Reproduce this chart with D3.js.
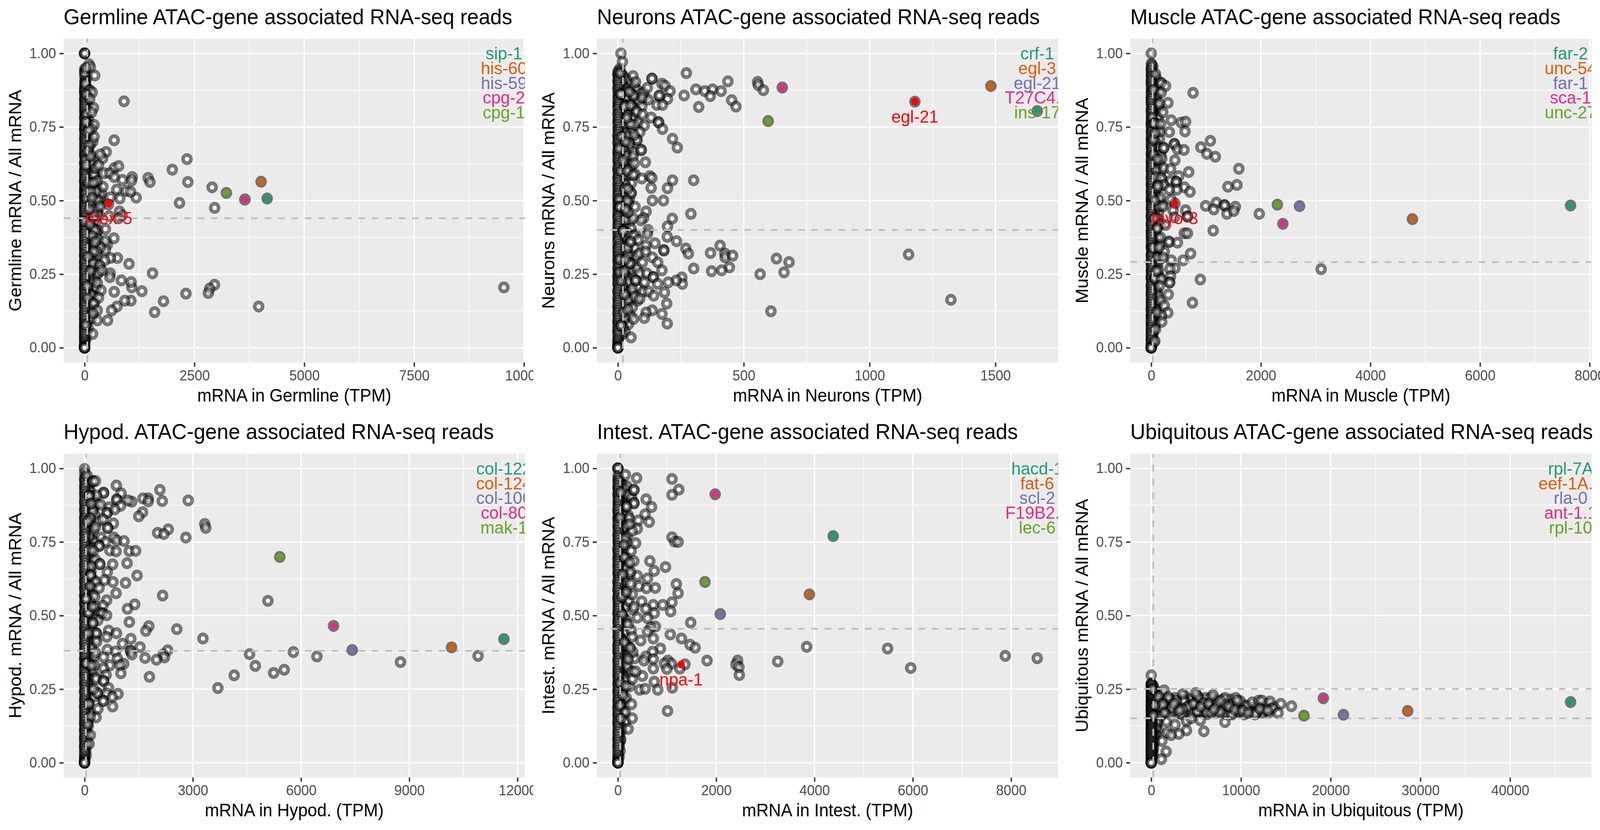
<!DOCTYPE html>
<html>
<head>
<meta charset="utf-8">
<script src="https://d3js.org/d3.v7.min.js"></script>
<style>
html, body { margin: 0; padding: 0; background: #fff; overflow: hidden; }
text { font-family: "Liberation Sans", Arial, sans-serif; }
</style>
</head>
<body>
<div id="chart"></div>
<script>
// values: [TPM, fraction of all mRNA]
var germlineCore = [[0,1],[0,1],[0,1],[2,.946],[6,.938],[11,.937],[3,.93],[14,.905],[17,.897],[4,.889],[9,.881],[3,.872],[2,.863],[12,.855],[5,.846],[17,.837],[8,.827],[2,.818],[14,.81],[6,.801],[21,.793],[3,.785],[10,.776],[16,.767],[4,.757],[9,.749],[2,.741],[13,.732],[7,.724],[3,.712],[18,.704],[5,.695],[11,.687],[2,.678],[8,.669],[14,.659],[4,.651],[19,.642],[6,.632],[2,.624],[10,.615],[16,.607],[3,.596],[7,.588],[12,.58],[2,.571],[5,.562],[20,.553],[9,.544],[3,.536],[13,.527],[6,.519],[2,.509],[17,.5],[8,.491],[4,.482],[11,.474],[2,.465],[15,.456],[6,.447],[3,.438],[9,.429],[18,.42],[4,.411],[12,.402],[2,.393],[7,.385],[14,.376],[3,.367],[10,.358],[5,.349],[2,.341],[16,.332],[8,.323],[3,.314],[11,.305],[6,.296],[2,.287],[13,.278],[4,.269],[9,.26],[2,.251],[15,.242],[6,.233],[3,.224],[11,.215],[5,.206],[2,.197],[14,.188],[7,.179],[3,.17],[10,.161],[4,.152],[2,.143],[12,.134],[6,.125],[3,.116],[9,.107],[2,.098],[13,.089],[5,.08],[2,.071],[8,.062],[3,.053],[6,.044],[2,.035],[4,.027],[1,.02],[3,.014],[0,.009],[2,.005],[0,.003],[1,.001],[0,0],[0,0],[0,0],[0,0]];
var germlineDense = [[8,.92],[4,.905],[10,.892],[1,.877],[7,.866],[13,.851],[1,.842],[6,.832],[11,.822],[3,.806],[8,.796],[1,.781],[12,.771],[5,.762],[1,.745],[7,.736],[10,.72],[2,.707],[6,.691],[13,.682],[1,.664],[5,.655],[9,.646],[2,.628],[7,.61],[1,.6],[4,.584],[10,.575],[1,.566],[7,.557],[3,.548],[12,.54],[1,.532],[6,.523],[3,.513],[9,.504],[1,.495],[5,.486],[2,.477],[8,.47],[1,.46],[4,.451],[10,.443],[1,.434],[6,.425],[3,.416],[9,.407],[1,.398],[5,.389],[2,.38],[8,.372],[1,.362],[4,.354],[10,.345],[1,.336],[6,.327],[3,.318],[1,.31],[7,.3],[2,.291],[9,.282],[1,.273],[5,.264],[3,.255],[8,.246],[1,.237],[4,.228],[7,.219],[1,.21],[3,.2],[9,.192],[1,.183],[5,.174],[2,.165],[7,.156],[1,.147],[4,.138],[8,.129],[1,.12],[3,.111],[6,.102],[1,.093],[4,.084],[1,.075],[3,.066],[1,.057],[2,.048],[1,.039],[2,.03],[60,.49],[120,.55],[95,.46],[160,.44],[210,.59],[255,.565],[310,.535],[360,.51],[130,.515],[240,.49],[280,.46],[330,.45],[185,.405],[270,.39],[230,.345],[155,.31],[290,.315],[120,.285],[205,.27],[330,.27],[95,.24],[170,.22],[250,.205],[70,.205],[140,.18],[225,.155],[55,.135],[105,.13],[165,.1],[80,.6],[155,.625],[120,.7],[70,.76],[45,.81]];
var germlineShoulder = [[45,.915],[60,.882],[38,.85],[72,.823],[55,.79],[90,.775],[48,.75],[110,.731],[66,.705],[130,.69],[85,.672],[150,.655],[60,.645],[180,.635],[105,.622],[210,.603],[75,.6],[140,.592],[240,.578],[95,.57],[170,.563],[280,.55],[60,.548],[125,.541],[210,.533],[320,.529],[85,.522],[160,.515],[265,.51],[340,.501],[50,.495],[115,.49],[195,.484],[290,.476],[70,.47],[145,.463],[230,.455],[40,.449],[100,.441],[175,.435],[260,.428],[65,.42],[130,.413],[205,.405],[300,.398],[85,.39],[155,.382],[240,.374],[50,.366],[120,.358],[190,.35],[275,.343],[75,.336],[140,.328],[220,.32],[40,.312],[105,.304],[170,.296],[250,.288],[65,.28],[130,.272],[200,.264],[310,.256],[85,.248],[150,.24],[235,.232],[50,.224],[115,.216],[180,.208],[265,.2],[70,.192],[135,.184],[210,.176],[40,.168],[100,.16],[165,.152],[60,.144],[125,.136],[195,.128],[80,.12],[45,.11],[110,.102],[70,.09],[40,.075],[85,.065],[55,.05],[30,.03]];
var germlinePoints = [[9543,.205],[3963,.14],[2957,.214],[2848,.201],[2817,.186],[2307,.184],[1797,.158],[1594,.121],[1546,.253],[1303,.192],[1074,.205],[1060,.223],[1054,.16],[917,.16],[837,.229],[674,.19],[737,.14],[617,.127],[523,.093],[289,.093],[183,.047],[1011,.285],[746,.305],[589,.305],[583,.253],[574,.24],[669,.372],[474,.403],[517,.35],[474,.333],[794,.463],[860,.45],[774,.44],[560,.447],[1174,.51],[946,.533],[1046,.53],[731,.537],[589,.511],[803,.507],[860,.57],[1083,.58],[1069,.568],[674,.61],[774,.617],[1446,.577],[1489,.563],[1997,.605],[2331,.641],[2351,.563],[2903,.545],[2160,.492],[2960,.475],[898,.837],[674,.705],[491,.665],[411,.643],[360,.657],[103,.963],[131,.953],[31,.95],[231,.925],[17,.897],[117,.875],[174,.868],[46,.86],[117,.845],[203,.815],[46,.793],[160,.8],[31,.767],[217,.757],[160,.743],[60,.733],[189,.7],[217,.717],[103,.687],[74,.667],[17,.637],[31,.62],[217,.587],[246,.61],[317,.62],[451,.593],[574,.593],[674,.58],[383,.525],[46,.537],[31,.523],[131,.503],[246,.507],[417,.547],[289,.567],[46,.507],[546,.487],[289,.46],[231,.4],[303,.37],[474,.363],[360,.341],[274,.327],[203,.327],[189,.288],[460,.297],[346,.28],[303,.253],[389,.263],[289,.22],[374,.195],[74,.17],[317,.17],[203,.15],[289,.127],[189,.117],[31,.077],[2,.43],[150,.49],[90,.56],[230,.47],[120,.42],[170,.38],[80,.31],[130,.26],[60,.21],[240,.36],[200,.56],[130,.65],[100,.74],[300,.5],[350,.48],[260,.53],[200,.45],[140,.53],[110,.47],[170,.51]];
var germlineGenes = ["sip-1", "his-60", "his-59", "cpg-2", "cpg-1"];
var germlineGeneX = [4156, 4017, 3653, 3645, 3227];
var germlineGeneY = [.507, .564, .504, .503, .526];

var neuronsCore = [[1,.94],[3,.935],[0,.93],[4,.921],[2,.914],[0,.908],[3,.9],[1,.892],[5,.884],[0,.876],[2,.868],[1,.859],[4,.851],[0,.843],[2,.834],[3,.826],[0,.817],[1,.809],[4,.8],[0,.792],[2,.783],[1,.775],[3,.766],[0,.757],[5,.749],[1,.74],[2,.732],[0,.723],[3,.714],[1,.706],[0,.697],[4,.689],[2,.68],[0,.671],[1,.663],[3,.654],[0,.645],[2,.637],[1,.628],[4,.62],[0,.611],[2,.603],[1,.594],[3,.585],[0,.576],[2,.568],[1,.559],[5,.55],[0,.541],[3,.533],[1,.524],[0,.516],[2,.507],[4,.498],[0,.49],[1,.481],[3,.472],[0,.464],[2,.455],[1,.446],[0,.438],[4,.429],[2,.42],[0,.412],[1,.403],[3,.394],[0,.386],[2,.377],[1,.368],[0,.36],[5,.351],[2,.342],[0,.334],[1,.325],[3,.316],[0,.308],[2,.299],[1,.29],[4,.282],[0,.273],[2,.264],[1,.256],[0,.247],[3,.238],[1,.23],[0,.221],[2,.212],[4,.204],[0,.195],[1,.186],[3,.178],[0,.169],[2,.16],[1,.152],[0,.143],[3,.134],[1,.126],[0,.117],[2,.108],[1,.1],[0,.091],[2,.082],[0,.074],[1,.065],[0,.056],[0,.048],[1,.04],[0,.03],[0,.024],[0,.017],[0,.01],[0,.006],[0,.002],[0,0],[0,0],[0,0]];
var neuronsDense = [[6,.925],[9,.9],[5,.87],[8,.845],[6,.82],[10,.79],[5,.765],[9,.74],[6,.71],[10,.685],[5,.655],[8,.63],[6,.6],[10,.575],[5,.545],[8,.52],[6,.495],[10,.47],[5,.44],[8,.415],[6,.39],[10,.365],[5,.34],[8,.31],[6,.285],[10,.26],[5,.23],[8,.205],[6,.18],[10,.155],[5,.13],[8,.105],[6,.08],[5,.055],[3,.035],[0,.928],[1,.905],[0,.882],[1,.853],[0,.828],[1,.798],[0,.77],[1,.745],[0,.718],[1,.692],[0,.66],[1,.635],[0,.606],[1,.58],[0,.553],[1,.53],[0,.503],[1,.475],[0,.45],[1,.425],[0,.398],[1,.372],[0,.345],[1,.32],[0,.295],[1,.268],[0,.24],[1,.215],[0,.19],[1,.163],[0,.138],[1,.113],[0,.088],[1,.06],[16,.905],[23,.87],[31,.85],[18,.83],[27,.805],[36,.79],[19,.75],[28,.73],[41,.72],[21,.68],[33,.65],[24,.625],[39,.605],[19,.585],[28,.555],[35,.52],[22,.5],[42,.49],[18,.455],[30,.435],[23,.4],[38,.39],[17,.375],[31,.345],[24,.325],[40,.315],[19,.29],[33,.27],[25,.25],[41,.225],[18,.21],[31,.18],[23,.155],[38,.145],[17,.12],[27,.1],[20,.07],[16,.045]];
var neuronsShoulder = [[8,.948],[16,.93],[24,.92],[34,.912],[12,.9],[44,.905],[22,.89],[54,.895],[32,.88],[66,.887],[15,.87],[42,.868],[78,.875],[26,.856],[56,.86],[90,.862],[18,.843],[38,.84],[70,.845],[104,.85],[28,.825],[50,.83],[84,.835],[14,.812],[40,.81],[62,.815],[95,.82],[24,.795],[46,.797],[72,.8],[12,.78],[34,.775],[56,.78],[20,.76],[42,.76],[80,.765],[14,.742],[30,.74],[52,.735],[22,.72],[36,.715],[60,.71],[12,.7],[28,.69],[48,.68],[18,.67],[34,.66],[64,.665],[10,.65],[26,.64],[44,.63],[16,.62],[30,.61],[52,.615],[22,.595],[40,.585],[68,.59],[14,.575],[30,.565],[54,.56],[20,.55],[38,.535],[12,.525],[28,.51],[46,.505],[18,.49],[34,.475],[12,.46],[26,.445],[48,.43],[14,.42],[30,.41],[52,.405],[20,.39],[36,.375],[70,.385],[12,.365],[28,.355],[50,.355],[18,.34],[36,.33],[66,.34],[12,.32],[26,.31],[44,.305],[74,.31],[16,.295],[34,.28],[58,.285],[12,.27],[26,.26],[46,.265],[76,.27],[18,.245],[36,.24],[60,.235],[12,.225],[28,.215],[48,.215],[80,.205],[16,.2],[34,.19],[58,.185],[12,.175],[28,.165],[48,.16],[78,.16],[18,.15],[36,.14],[14,.13],[30,.115],[50,.11],[12,.095],[24,.085],[42,.08],[14,.065],[28,.055],[8,.045]];
var neuronsPoints = [[12,1],[18,.972],[272,.933],[437,.905],[310,.878],[345,.872],[376,.878],[410,.872],[367,.855],[263,.857],[321,.818],[452,.841],[469,.819],[136,.913],[135,.915],[175,.897],[187,.89],[207,.872],[197,.845],[165,.855],[164,.857],[155,.825],[177,.825],[120,.843],[102,.867],[95,.85],[117,.883],[60,.923],[70,.903],[62,.857],[27,.82],[28,.821],[50,.823],[10,.863],[11,.861],[10,.933],[75,.803],[97,.793],[132,.782],[161,.767],[162,.765],[177,.743],[105,.755],[65,.757],[87,.733],[75,.707],[76,.705],[65,.723],[45,.695],[217,.71],[236,.68],[92,.673],[93,.671],[15,.717],[5,.677],[60,.65],[65,.627],[109,.63],[20,.637],[12,.6],[37,.6],[60,.587],[95,.575],[127,.583],[135,.577],[217,.569],[301,.569],[132,.543],[197,.542],[137,.5],[181,.5],[27,.54],[52,.527],[53,.525],[5,.503],[37,.5],[7,.479],[8,.478],[68,.479],[112,.463],[102,.441],[92,.433],[60,.44],[40,.46],[290,.455],[216,.439],[197,.412],[20,.397],[21,.396],[120,.4],[117,.387],[62,.38],[80,.367],[196,.377],[233,.362],[147,.355],[270,.337],[280,.32],[182,.332],[183,.33],[111,.347],[85,.32],[38,.339],[110,.327],[137,.307],[158,.29],[7,.301],[46,.288],[47,.286],[97,.29],[368,.322],[406,.347],[425,.32],[426,.307],[456,.313],[443,.273],[372,.26],[412,.263],[301,.269],[175,.263],[7,.257],[86,.253],[115,.253],[140,.241],[141,.239],[254,.239],[256,.217],[232,.229],[200,.222],[158,.217],[70,.23],[71,.228],[13,.227],[105,.222],[185,.188],[57,.2],[100,.191],[122,.191],[142,.177],[194,.15],[42,.163],[67,.173],[87,.167],[57,.137],[22,.122],[136,.127],[112,.12],[175,.115],[105,.101],[62,.098],[196,.082],[12,.077],[13,.075],[52,.035],[555,.903],[558,.892],[578,.875],[1155,.317],[1323,.163],[608,.124],[565,.25],[660,.256],[680,.291],[630,.303],[40,.54],[30,.7],[50,.76],[30,.3],[50,.36],[25,.18],[40,.13],[30,.47],[25,.26],[45,.87],[35,.78]];
var neuronsGenes = ["crf-1", "egl-3", "egl-21", "T27C4.4", "ins-17"];
var neuronsGeneX = [1666, 1482, 1180, 653, 597];
var neuronsGeneY = [.804, .889, .836, .884, .77];

var muscleCore = [[0,1],[3,.965],[9,.96],[2,.95],[6,.94],[1,.93],[8,.922],[4,.913],[0,.905],[7,.896],[2,.888],[10,.88],[5,.871],[1,.862],[8,.853],[3,.845],[0,.836],[6,.827],[11,.818],[2,.81],[5,.801],[1,.792],[9,.783],[4,.775],[0,.766],[7,.757],[3,.749],[12,.74],[1,.731],[6,.722],[2,.713],[9,.705],[0,.696],[5,.687],[3,.679],[8,.67],[1,.661],[11,.652],[4,.644],[0,.635],[7,.626],[2,.618],[5,.609],[1,.6],[9,.591],[3,.583],[0,.574],[6,.565],[2,.557],[10,.548],[4,.539],[1,.53],[7,.522],[0,.513],[3,.504],[8,.496],[2,.487],[5,.478],[0,.469],[11,.461],[3,.452],[1,.443],[7,.434],[4,.426],[0,.417],[9,.408],[2,.399],[6,.39],[1,.382],[3,.373],[8,.364],[0,.355],[5,.347],[2,.338],[10,.329],[3,.32],[1,.312],[7,.303],[0,.294],[4,.285],[2,.277],[9,.268],[1,.259],[5,.25],[0,.242],[3,.233],[8,.224],[2,.216],[0,.207],[6,.198],[1,.189],[4,.181],[0,.172],[7,.163],[2,.154],[1,.146],[5,.137],[0,.128],[3,.12],[1,.111],[6,.102],[0,.094],[2,.085],[4,.076],[0,.067],[2,.059],[1,.05],[0,.042],[3,.033],[0,.025],[1,.016],[0,.009],[0,.004],[0,0],[0,0],[0,0],[0,0]];
var muscleDense = [[0,.945],[4,.925],[1,.9],[5,.875],[0,.85],[3,.83],[1,.806],[6,.78],[0,.76],[3,.735],[1,.708],[5,.683],[0,.657],[4,.63],[1,.605],[6,.58],[0,.553],[4,.527],[1,.5],[5,.475],[0,.448],[3,.42],[1,.395],[6,.37],[0,.343],[4,.315],[1,.29],[5,.263],[0,.237],[3,.21],[1,.185],[5,.16],[0,.133],[3,.107],[1,.08],[3,.055],[0,.03],[20,.9],[16,.87],[24,.84],[18,.805],[22,.775],[15,.745],[25,.71],[18,.68],[21,.65],[16,.62],[24,.59],[19,.56],[22,.53],[15,.5],[25,.47],[18,.44],[22,.41],[16,.38],[24,.35],[19,.32],[21,.29],[15,.26],[24,.23],[18,.2],[21,.17],[16,.14],[22,.11],[15,.08],[18,.05],[50,.88],[75,.855],[105,.825],[130,.78],[95,.76],[160,.735],[75,.7],[125,.68],[175,.655],[60,.63],[95,.61],[165,.595],[200,.57],[115,.56],[70,.52],[150,.5],[200,.485],[55,.46],[110,.44],[175,.42],[70,.395],[115,.375],[160,.35],[50,.325],[90,.31],[145,.3],[60,.28],[110,.26],[155,.24],[45,.215],[85,.195],[130,.175],[50,.15],[85,.13],[45,.095],[75,.08]];
var muscleShoulder = [[30,.955],[55,.925],[90,.915],[35,.895],[70,.885],[125,.87],[45,.86],[95,.85],[30,.83],[65,.825],[140,.815],[45,.8],[90,.785],[30,.77],[60,.75],[120,.745],[40,.73],[85,.72],[150,.71],[30,.695],[65,.685],[110,.67],[40,.66],[85,.64],[150,.63],[30,.615],[60,.6],[105,.59],[40,.575],[80,.56],[140,.545],[30,.53],[60,.52],[100,.505],[40,.49],[80,.47],[135,.46],[30,.445],[60,.43],[100,.42],[40,.4],[75,.385],[125,.37],[30,.36],[60,.345],[100,.33],[40,.315],[75,.3],[120,.285],[30,.27],[60,.255],[95,.24],[40,.22],[70,.205],[110,.19],[30,.175],[60,.16],[90,.145],[35,.13],[65,.115],[100,.1],[30,.085],[60,.07],[35,.05],[25,.035],[50,.02]];
var musclePoints = [[78,.93],[181,.9],[182,.898],[261,.889],[43,.877],[181,.867],[764,.866],[306,.832],[146,.83],[210,.8],[20,.783],[55,.763],[56,.761],[364,.773],[547,.765],[627,.768],[617,.735],[329,.733],[169,.76],[421,.693],[422,.691],[43,.707],[226,.68],[227,.678],[478,.675],[597,.672],[43,.655],[1079,.703],[906,.681],[1015,.659],[1169,.649],[432,.637],[192,.643],[89,.603],[226,.61],[352,.607],[684,.597],[1599,.608],[501,.583],[352,.567],[455,.565],[456,.563],[89,.58],[181,.577],[604,.545],[467,.537],[707,.53],[226,.553],[101,.543],[329,.537],[1400,.547],[1564,.553],[32,.51],[169,.51],[364,.503],[432,.49],[135,.48],[215,.48],[398,.467],[627,.467],[661,.447],[662,.445],[421,.443],[993,.482],[1187,.493],[1141,.47],[1336,.485],[1338,.483],[1535,.479],[1381,.455],[1507,.465],[1971,.455],[1130,.398],[107,.407],[108,.405],[261,.417],[604,.389],[661,.389],[169,.375],[325,.361],[326,.359],[478,.357],[32,.34],[238,.327],[718,.32],[581,.297],[364,.297],[112,.307],[215,.307],[432,.27],[341,.268],[135,.263],[896,.232],[66,.237],[67,.235],[352,.243],[335,.223],[336,.221],[181,.233],[311,.181],[169,.16],[238,.143],[752,.153],[302,.119],[188,.11],[192,.088],[78,.063],[66,.023],[3100,.267],[120,.55],[60,.44],[140,.34],[90,.26],[150,.21],[100,.12],[70,.73],[110,.64],[60,.5]];
var muscleGenes = ["far-2", "unc-54", "far-1", "sca-1", "unc-27"];
var muscleGeneX = [7652, 4766, 2706, 2402, 2302];
var muscleGeneY = [.483, .437, .481, .421, .486];

var hypodCore = [[0,.998],[5,.985],[12,.972],[3,.96],[8,.95],[15,.94],[2,.93],[10,.92],[18,.911],[4,.902],[13,.893],[1,.884],[7,.875],[16,.866],[3,.857],[11,.848],[21,.839],[5,.83],[1,.821],[14,.812],[8,.803],[2,.794],[19,.785],[6,.776],[12,.767],[3,.758],[9,.749],[1,.74],[16,.731],[5,.722],[11,.713],[2,.704],[18,.695],[7,.686],[13,.677],[3,.668],[9,.659],[1,.65],[15,.641],[6,.632],[20,.623],[2,.614],[11,.605],[4,.596],[8,.587],[17,.578],[1,.569],[13,.56],[6,.551],[3,.542],[10,.533],[19,.524],[2,.515],[7,.506],[14,.497],[4,.488],[1,.479],[11,.47],[6,.461],[16,.452],[3,.443],[9,.434],[1,.425],[13,.416],[5,.407],[18,.398],[2,.389],[8,.38],[12,.371],[3,.362],[7,.353],[15,.344],[1,.335],[10,.326],[4,.317],[2,.308],[13,.299],[6,.29],[1,.281],[9,.272],[3,.263],[11,.254],[5,.245],[2,.236],[14,.227],[7,.218],[1,.209],[10,.2],[3,.191],[6,.182],[1,.173],[12,.164],[4,.155],[2,.146],[8,.137],[1,.128],[5,.119],[3,.11],[9,.101],[1,.092],[4,.083],[2,.074],[6,.065],[1,.056],[3,.047],[1,.038],[2,.029],[0,.02],[1,.014],[0,.009],[0,.005],[0,.002],[0,0],[0,0],[0,0],[0,0]];
var hypodDense = [[1,.965],[4,.94],[0,.915],[6,.888],[2,.862],[0,.835],[5,.808],[1,.78],[7,.755],[0,.727],[3,.7],[1,.673],[6,.646],[0,.62],[4,.592],[2,.566],[7,.54],[0,.512],[3,.485],[1,.458],[6,.432],[0,.405],[4,.378],[2,.352],[7,.325],[0,.298],[3,.27],[1,.244],[6,.218],[0,.19],[4,.163],[2,.136],[0,.11],[3,.082],[1,.055],[25,.935],[35,.9],[28,.87],[40,.845],[25,.815],[36,.785],[28,.75],[42,.72],[25,.69],[34,.66],[28,.63],[40,.6],[25,.57],[36,.54],[30,.51],[42,.48],[25,.45],[34,.42],[28,.39],[40,.36],[25,.33],[36,.3],[28,.27],[42,.24],[25,.21],[34,.18],[28,.15],[38,.12],[25,.09],[32,.06],[70,.95],[120,.925],[175,.905],[260,.895],[330,.88],[210,.86],[300,.84],[150,.83],[380,.82],[250,.79],[130,.77],[330,.75],[210,.73],[110,.71],[300,.69],[180,.65],[260,.62],[95,.59],[230,.57],[150,.55],[320,.53],[400,.51],[260,.49],[130,.47],[205,.45],[300,.42],[95,.41],[190,.39],[260,.36],[120,.34],[215,.315],[310,.29],[95,.27],[180,.25],[260,.225],[115,.2],[170,.17],[90,.14],[65,.08]];
var hypodShoulder = [[40,.96],[90,.94],[150,.925],[55,.915],[110,.905],[210,.895],[70,.885],[140,.875],[260,.87],[45,.86],[105,.85],[190,.84],[60,.83],[130,.82],[240,.815],[45,.805],[95,.795],[170,.785],[55,.77],[120,.76],[220,.755],[40,.74],[85,.73],[155,.72],[50,.705],[105,.695],[190,.69],[40,.675],[80,.665],[140,.655],[50,.64],[100,.63],[175,.62],[40,.605],[75,.59],[130,.58],[50,.565],[95,.555],[160,.545],[40,.53],[80,.52],[200,.515],[55,.5],[110,.49],[170,.48],[40,.465],[85,.455],[140,.44],[50,.425],[100,.415],[160,.405],[40,.39],[80,.375],[130,.365],[50,.35],[95,.34],[150,.325],[40,.31],[75,.3],[120,.285],[45,.27],[85,.26],[140,.245],[40,.23],[70,.22],[110,.205],[45,.19],[80,.18],[130,.165],[40,.15],[65,.14],[100,.125],[35,.11],[60,.1],[40,.08],[55,.06],[35,.04],[45,.025]];
var hypodPoints = [[10907,.363],[8758,.342],[6439,.361],[5788,.376],[5534,.316],[5241,.305],[4732,.329],[4572,.369],[4148,.297],[3695,.254],[5081,.55],[3281,.422],[73,.975],[230,.957],[232,.955],[300,.957],[881,.942],[1014,.915],[2087,.927],[2874,.891],[2153,.889],[1763,.898],[1617,.898],[1765,.888],[1310,.887],[1205,.891],[892,.895],[894,.893],[996,.873],[526,.918],[528,.916],[334,.908],[125,.908],[127,.906],[439,.877],[683,.868],[230,.855],[624,.85],[626,.848],[840,.861],[1606,.851],[1502,.837],[160,.831],[509,.827],[798,.813],[641,.799],[643,.797],[300,.801],[3331,.811],[3359,.798],[2320,.793],[2024,.781],[2198,.777],[2808,.765],[456,.765],[812,.765],[578,.75],[892,.755],[1094,.753],[404,.738],[406,.736],[143,.724],[700,.721],[874,.718],[1240,.719],[1415,.72],[422,.676],[424,.674],[777,.674],[1178,.678],[178,.668],[631,.648],[167,.638],[169,.636],[1456,.636],[550,.62],[787,.614],[1136,.611],[317,.614],[404,.594],[874,.576],[282,.564],[2164,.568],[38,.558],[40,.556],[613,.552],[1390,.538],[1188,.523],[509,.534],[108,.511],[110,.509],[491,.509],[493,.507],[613,.501],[369,.484],[230,.476],[232,.474],[1240,.478],[1780,.464],[1700,.448],[2557,.454],[665,.449],[885,.44],[324,.441],[326,.439],[613,.428],[1282,.421],[1049,.404],[334,.411],[1536,.393],[631,.384],[857,.378],[1275,.381],[1277,.379],[300,.374],[2303,.382],[2181,.368],[2216,.358],[1310,.368],[526,.359],[909,.354],[1676,.356],[1993,.35],[1084,.336],[979,.332],[700,.331],[49,.339],[51,.337],[272,.331],[526,.321],[1007,.304],[1798,.292],[596,.298],[317,.284],[526,.279],[528,.277],[665,.254],[927,.234],[613,.236],[352,.238],[354,.236],[770,.224],[516,.211],[518,.209],[777,.191],[369,.183],[317,.154],[160,.157],[160,.094],[125,.064],[180,.88],[90,.82],[240,.72],[150,.6],[220,.53],[100,.44],[180,.33],[250,.25],[120,.2],[90,.13]];
var hypodGenes = ["col-122", "col-124", "col-106", "col-80", "mak-1"];
var hypodGeneX = [11623, 10172, 7419, 6901, 5411];
var hypodGeneY = [.42, .392, .383, .465, .699];

var intestCore = [[0,1],[0,1],[0,1],[3,.975],[8,.966],[14,.957],[2,.948],[6,.94],[1,.931],[11,.922],[4,.913],[16,.904],[2,.895],[7,.887],[12,.878],[3,.869],[1,.86],[9,.851],[5,.842],[14,.833],[2,.825],[7,.816],[1,.807],[11,.798],[4,.789],[17,.78],[2,.771],[8,.763],[3,.754],[13,.745],[6,.736],[1,.727],[10,.718],[4,.709],[15,.7],[2,.691],[7,.683],[3,.674],[12,.665],[1,.656],[9,.647],[5,.638],[18,.629],[2,.62],[6,.611],[11,.603],[3,.594],[1,.585],[14,.576],[7,.567],[4,.558],[2,.549],[9,.541],[16,.532],[3,.523],[6,.514],[1,.505],[12,.496],[4,.487],[8,.478],[2,.469],[15,.461],[5,.452],[1,.443],[10,.434],[3,.425],[7,.416],[13,.407],[2,.398],[5,.389],[1,.381],[9,.372],[17,.363],[3,.354],[6,.345],[2,.336],[11,.327],[4,.318],[1,.309],[8,.301],[14,.292],[3,.283],[5,.274],[1,.265],[10,.256],[2,.247],[7,.238],[3,.229],[12,.221],[1,.212],[5,.203],[9,.194],[2,.185],[4,.176],[1,.167],[7,.158],[3,.149],[1,.14],[6,.131],[2,.122],[9,.113],[4,.104],[1,.095],[5,.086],[2,.077],[3,.068],[1,.059],[4,.05],[0,.041],[2,.032],[1,.024],[0,.016],[1,.01],[0,.005],[0,.002],[0,0],[0,0],[0,0]];
var intestDense = [[1,.96],[4,.935],[0,.91],[5,.88],[2,.855],[0,.83],[4,.8],[1,.775],[6,.75],[0,.722],[3,.695],[1,.668],[5,.642],[0,.615],[3,.588],[1,.562],[6,.535],[0,.508],[3,.48],[1,.455],[5,.428],[0,.4],[3,.375],[1,.348],[6,.322],[0,.295],[3,.268],[1,.242],[5,.215],[0,.19],[3,.162],[1,.135],[4,.108],[0,.082],[2,.055],[22,.93],[30,.895],[25,.865],[33,.835],[22,.8],[28,.77],[35,.74],[24,.705],[30,.675],[22,.645],[33,.615],[26,.58],[31,.55],[22,.52],[28,.49],[35,.46],[24,.43],[30,.4],[22,.37],[33,.34],[26,.31],[31,.28],[22,.25],[28,.22],[33,.19],[24,.16],[27,.13],[22,.1],[28,.07],[60,.945],[120,.93],[205,.91],[280,.9],[150,.87],[80,.845],[230,.83],[130,.8],[60,.77],[180,.75],[270,.72],[95,.7],[165,.66],[250,.64],[65,.61],[130,.57],[220,.55],[310,.52],[90,.5],[170,.47],[270,.45],[65,.42],[140,.4],[240,.37],[340,.355],[100,.34],[190,.33],[290,.31],[65,.29],[150,.28],[240,.26],[90,.24],[170,.22],[60,.2],[115,.17],[150,.14],[75,.12],[55,.08]];
var intestShoulder = [[40,.955],[100,.945],[180,.94],[60,.925],[130,.915],[250,.905],[35,.895],[90,.885],[170,.875],[50,.86],[120,.85],[210,.84],[35,.825],[85,.815],[150,.805],[50,.79],[110,.78],[190,.77],[35,.755],[75,.745],[140,.735],[50,.72],[100,.71],[175,.695],[35,.68],[70,.67],[125,.66],[220,.65],[45,.64],[90,.625],[150,.615],[35,.6],[70,.59],[120,.58],[190,.57],[45,.555],[85,.54],[140,.53],[35,.515],[65,.505],[110,.495],[170,.485],[45,.47],[85,.46],[130,.445],[35,.43],[70,.42],[115,.41],[175,.4],[240,.39],[45,.385],[85,.37],[140,.36],[35,.35],[70,.34],[115,.33],[190,.32],[45,.31],[80,.3],[130,.29],[35,.275],[70,.265],[110,.255],[45,.24],[75,.23],[120,.22],[35,.205],[60,.195],[95,.18],[40,.165],[70,.155],[35,.135],[55,.125],[75,.11],[35,.09],[50,.075],[30,.055],[45,.04],[25,.02]];
var intestPoints = [[152,.978],[381,.967],[1100,.964],[1239,.928],[1100,.91],[325,.928],[327,.926],[62,.919],[574,.895],[325,.883],[327,.881],[685,.869],[554,.844],[637,.818],[415,.823],[48,.833],[394,.795],[291,.788],[1100,.766],[1156,.751],[1225,.75],[360,.746],[138,.761],[131,.698],[325,.685],[650,.685],[969,.665],[740,.652],[394,.635],[256,.649],[97,.64],[602,.626],[1190,.607],[429,.6],[256,.608],[581,.593],[761,.594],[1225,.576],[291,.572],[83,.563],[484,.548],[1100,.545],[720,.536],[913,.536],[567,.523],[1073,.514],[740,.508],[83,.505],[394,.493],[602,.491],[1481,.476],[761,.463],[671,.46],[602,.446],[720,.422],[1066,.436],[1294,.422],[1467,.401],[1571,.391],[291,.428],[464,.415],[865,.388],[706,.377],[304,.376],[567,.361],[208,.352],[720,.352],[1813,.347],[1017,.347],[1086,.337],[948,.337],[1363,.334],[2436,.347],[2401,.334],[2463,.325],[2470,.298],[3252,.344],[3841,.394],[5488,.388],[5958,.322],[7882,.363],[8532,.355],[533,.347],[720,.32],[996,.319],[1259,.32],[498,.295],[740,.275],[1107,.255],[810,.248],[443,.248],[554,.251],[291,.284],[48,.271],[277,.199],[1010,.176],[48,.194],[152,.172],[291,.151],[208,.115],[180,.87],[230,.81],[120,.74],[240,.68],[170,.58],[330,.53],[210,.47],[130,.41],[250,.39],[360,.31],[160,.26],[100,.23],[60,.15]];
var intestGenes = ["hacd-1", "fat-6", "scl-2", "F19B2.5", "lec-6"];
var intestGeneX = [4380, 3896, 2083, 1979, 1772];
var intestGeneY = [.77, .572, .505, .912, .614];

var ubiqCore = [[0,.297],[0,.268],[20,.268],[0,.262],[60,.256],[10,.25],[40,.244],[0,.24],[90,.235],[30,.23],[0,.226],[70,.222],[15,.218],[110,.214],[0,.21],[50,.206],[130,.203],[20,.2],[80,.197],[0,.194],[40,.19],[140,.187],[10,.184],[60,.18],[100,.176],[0,.172],[30,.168],[120,.164],[15,.16],[70,.156],[0,.152],[45,.148],[95,.144],[10,.14],[25,.136],[0,.132],[65,.128],[15,.124],[85,.12],[0,.116],[35,.112],[10,.108],[55,.104],[0,.1],[20,.096],[75,.092],[5,.088],[0,.084],[40,.08],[10,.076],[30,.072],[0,.068],[60,.064],[15,.06],[0,.056],[25,.052],[5,.048],[45,.044],[0,.04],[10,.036],[20,.032],[0,.028],[5,.024],[15,.02],[0,.016],[5,.012],[0,.008],[0,.004],[0,0],[0,0],[0,0],[0,0]];
var ubiqDense = [[5,.265],[15,.255],[0,.248],[35,.237],[5,.228],[55,.224],[25,.214],[0,.204],[75,.2],[15,.192],[45,.184],[0,.178],[25,.17],[90,.166],[5,.158],[35,.15],[0,.144],[55,.138],[20,.13],[0,.122],[40,.114],[10,.106],[0,.098],[25,.09],[0,.08],[15,.072],[0,.064],[10,.054],[0,.046],[5,.036],[0,.026],[200,.25],[330,.24],[150,.225],[280,.215],[470,.215],[600,.205],[220,.205],[380,.2],[750,.2],[300,.19],[500,.19],[900,.185],[180,.18],[360,.175],[640,.175],[1100,.175],[230,.165],[430,.165],[800,.165],[1300,.17],[180,.155],[310,.15],[560,.148],[1000,.155],[230,.14],[420,.135],[700,.138],[160,.125],[300,.115],[520,.118],[190,.105],[350,.085],[130,.085],[230,.07],[110,.055],[170,.04],[1700,.195],[2100,.215],[2350,.175],[2700,.2],[3200,.19],[3400,.165],[3750,.21],[4200,.185],[4600,.17],[5000,.205],[5400,.215],[5900,.185],[6250,.165],[6600,.22],[7300,.17],[7600,.195],[8000,.215],[8400,.165],[8900,.2],[9500,.195],[9900,.21],[10600,.18],[11300,.175],[11800,.195],[12400,.17],[12900,.2],[13700,.19]];
var ubiqShoulder = [[220,.262],[380,.25],[180,.238],[520,.232],[300,.224],[700,.22],[200,.212],[450,.208],[880,.21],[260,.2],[620,.198],[1050,.2],[180,.19],[400,.186],[780,.188],[1250,.19],[240,.176],[540,.172],[950,.178],[1420,.18],[170,.162],[360,.158],[680,.162],[1150,.168],[220,.148],[480,.142],[850,.152],[160,.132],[340,.126],[620,.13],[190,.116],[420,.108],[760,.112],[150,.1],[300,.09],[560,.094],[170,.078],[360,.07],[140,.058],[260,.05],[130,.038],[210,.026],[120,.016],[1600,.215],[1850,.2],[2050,.19],[2200,.213],[2450,.18],[2650,.22],[2900,.196],[3050,.168],[3300,.205],[3650,.19],[3800,.225],[4000,.175],[4300,.215],[4500,.196],[4850,.182],[5300,.19],[5650,.17],[6000,.22],[6300,.19],[6550,.205],[6800,.178],[7100,.215],[7450,.188],[7900,.18],[8100,.205],[8500,.177],[8800,.215],[9100,.2],[9650,.185],[10000,.178],[10400,.195],[11000,.178],[11500,.19],[12700,.19],[13100,.17]];
var ubiqPoints = [[154,.25],[1183,.235],[1440,.246],[3584,.213],[3590,.211],[3499,.233],[2298,.189],[2304,.187],[4099,.191],[3499,.182],[5128,.226],[5214,.224],[4956,.237],[5128,.175],[5134,.173],[5814,.202],[6877,.23],[7272,.198],[6157,.173],[6671,.171],[8215,.22],[8301,.197],[9415,.22],[7700,.173],[8901,.167],[9844,.173],[9850,.171],[9587,.211],[10701,.193],[11268,.205],[11988,.211],[12331,.211],[13240,.208],[11731,.173],[11737,.171],[12674,.18],[13446,.184],[14132,.169],[14440,.2],[15624,.192],[11559,.164],[10359,.164],[8987,.164],[8215,.138],[5865,.107],[5471,.144],[3927,.142],[4442,.151],[3927,.11],[3070,.098],[2641,.129],[1784,.102],[2212,.094],[1183,.074],[1664,.038],[1132,.012],[240,.16],[1698,.14],[926,.191],[1183,.189],[2800,.21],[3100,.178],[1900,.223],[2500,.2],[4700,.2],[5500,.19],[6400,.2],[7000,.182],[7700,.21],[8700,.19],[9300,.18],[10200,.178],[10800,.17],[12100,.183],[13000,.178],[1500,.17],[600,.21],[800,.225],[400,.195],[1300,.2]];
var ubiqGenes = ["rpl-7A", "eef-1A.1", "rla-0", "ant-1.1", "rpl-10"];
var ubiqGeneX = [46740, 28584, 21420, 19183, 17022];
var ubiqGeneY = [.206, .176, .163, .219, .16];

var panelNames = ["Germline", "Neurons", "Muscle", "Hypod.", "Intest.", "Ubiquitous"];
var panelCores = [germlineCore, neuronsCore, muscleCore, hypodCore, intestCore, ubiqCore];
var panelDense = [germlineDense, neuronsDense, muscleDense, hypodDense, intestDense, ubiqDense];
var panelShoulders = [germlineShoulder, neuronsShoulder, muscleShoulder, hypodShoulder, intestShoulder, ubiqShoulder];
var panelPoints = [germlinePoints, neuronsPoints, musclePoints, hypodPoints, intestPoints, ubiqPoints];
var panelGenes = [germlineGenes, neuronsGenes, muscleGenes, hypodGenes, intestGenes, ubiqGenes];
var panelGeneX = [germlineGeneX, neuronsGeneX, muscleGeneX, hypodGeneX, intestGeneX, ubiqGeneX];
var panelGeneY = [germlineGeneY, neuronsGeneY, muscleGeneY, hypodGeneY, intestGeneY, ubiqGeneY];
var panelXTicks = [[0,2500,5000,7500,10000],[0,500,1000,1500],[0,2000,4000,6000,8000],[0,3000,6000,9000,12000],[0,2000,4000,6000,8000],[0,10000,20000,30000,40000]];
var panelXMax = [9543, 1666, 7652, 11623, 8532, 46740];
// cut-offs drawn as dashed lines
var panelVLine = [62, 20, 25, 38, 48, 227];
var panelHLines = [[.44],[.40],[.291],[.38],[.455],[.251,.151]];
// marker gene, red dot and its label
var markerNames = ["mex-5", "egl-21", "myo-3", null, "npa-1", null];
var markerX = [550, 1180, 428, null, 1287, null];
var markerY = [.49, .836, .49, null, .334, null];
var yTicks = [0, .25, .5, .75, 1];
var geneColors = ["#1B9E77", "#D95F02", "#7570B3", "#E7298A", "#66A61E"];

var width = 4251, height = 2125;
var cellW = 1417, cellH = 1062.5;
var margin = {left: 169, right: 22.5, top: 99, bottom: 134.5};
var pw = cellW - margin.left - margin.right;
var ph = cellH - margin.top - margin.bottom;

// drawn in 4251x2125 units and fitted to whatever the window really gives
var svg = d3.select("#chart").append("svg")
    .attr("width", window.innerWidth)
    .attr("height", window.innerHeight)
    .attr("viewBox", "0 0 " + width + " " + height)
    .attr("preserveAspectRatio", "none")
    .style("display", "block");

panelNames.forEach(function(name, i) {
  var col = i % 3, row = Math.floor(i / 3);
  var cell = svg.append("g")
      .attr("transform", "translate(" + col * cellW + "," + row * cellH + ")");

  // long tick labels get cut at the edge of the cell
  svg.append("clipPath").attr("id", "cell" + i).append("rect")
      .attr("width", cellW).attr("height", cellH);
  svg.append("clipPath").attr("id", "panel" + i).append("rect")
      .attr("width", pw).attr("height", ph);
  cell.attr("clip-path", "url(#cell" + i + ")");

  var x = d3.scaleLinear()
      .domain([-0.05 * panelXMax[i], 1.05 * panelXMax[i]])
      .range([0, pw]);
  var y = d3.scaleLinear().domain([-0.05, 1.05]).range([ph, 0]);

  var g = cell.append("g")
      .attr("transform", "translate(" + margin.left + "," + margin.top + ")");

  g.append("rect").attr("width", pw).attr("height", ph).attr("fill", "#EBEBEB");

  var xt = panelXTicks[i];
  var step = xt[1] - xt[0];
  var xMinor = d3.range(step / 2, x.domain()[1], step);
  var yMinor = [.125, .375, .625, .875];

  g.selectAll(".xminor").data(xMinor).enter().append("line")
      .attr("x1", x).attr("x2", x).attr("y1", 0).attr("y2", ph)
      .attr("stroke", "#fff").attr("stroke-width", 1.8);
  g.selectAll(".yminor").data(yMinor).enter().append("line")
      .attr("y1", y).attr("y2", y).attr("x1", 0).attr("x2", pw)
      .attr("stroke", "#fff").attr("stroke-width", 1.8);
  g.selectAll(".xmajor").data(xt).enter().append("line")
      .attr("x1", x).attr("x2", x).attr("y1", 0).attr("y2", ph)
      .attr("stroke", "#fff").attr("stroke-width", 3.6);
  g.selectAll(".ymajor").data(yTicks).enter().append("line")
      .attr("y1", y).attr("y2", y).attr("x1", 0).attr("x2", pw)
      .attr("stroke", "#fff").attr("stroke-width", 3.6);

  var plot = g.append("g").attr("clip-path", "url(#panel" + i + ")");

  var pts = panelShoulders[i].concat(panelDense[i], panelCores[i], panelPoints[i]);
  plot.selectAll(".pt").data(pts).enter().append("circle")
      .attr("cx", function(d) { return x(d[0]); })
      .attr("cy", function(d) { return y(d[1]); })
      .attr("r", 10.5)
      .attr("fill", "#fff").attr("fill-opacity", 0.5)
      .attr("stroke", "#000").attr("stroke-opacity", 0.5)
      .attr("stroke-width", 9.5);

  // cut-off lines, dashes start from the panel edge as in R
  plot.selectAll(".hl").data(panelHLines[i]).enter().append("line")
      .attr("y1", y).attr("y2", y).attr("x1", 0).attr("x2", pw)
      .attr("stroke", "#BEBEBE").attr("stroke-width", 4.5)
      .attr("stroke-dasharray", "17.8 17.8");
  plot.append("line")
      .attr("x1", x(panelVLine[i])).attr("x2", x(panelVLine[i]))
      .attr("y1", ph).attr("y2", 0)
      .attr("stroke", "#BEBEBE").attr("stroke-width", 4.5)
      .attr("stroke-dasharray", "17.8 17.8");

  // top five genes, coloured dot inside a grey ring
  var genes = panelGenes[i].map(function(g, k) {
    return {name: g, x: panelGeneX[i][k], y: panelGeneY[i][k], color: geneColors[k], rank: k};
  });
  plot.selectAll(".ring").data(genes).enter().append("circle")
      .attr("cx", function(d) { return x(d.x); })
      .attr("cy", function(d) { return y(d.y); })
      .attr("r", 10.5).attr("fill", "none")
      .attr("stroke", "#737373").attr("stroke-width", 9.5);
  plot.selectAll(".dot").data(genes).enter().append("circle")
      .attr("cx", function(d) { return x(d.x); })
      .attr("cy", function(d) { return y(d.y); })
      .attr("r", 9.5)
      .attr("fill", function(d) { return d.color; });

  if (markerNames[i]) {
    plot.append("circle")
        .attr("cx", x(markerX[i])).attr("cy", y(markerY[i]))
        .attr("r", 10).attr("fill", "#FF0000");
    plot.append("text")
        .attr("x", x(markerX[i])).attr("y", y(markerY[i] - 0.05))
        .attr("dy", "0.35em").attr("text-anchor", "middle")
        .attr("font-size", 45).attr("fill", "#FF0000")
        .text(markerNames[i]);
  }

  plot.selectAll(".lab").data(genes).enter().append("text")
      .attr("x", x(panelXMax[i]))
      .attr("y", function(d) { return y(1 - d.rank * 0.05); })
      .attr("dy", "0.35em").attr("text-anchor", "middle")
      .attr("font-size", 45)
      .attr("fill", function(d) { return d.color; })
      .text(function(d) { return d.name; });

  // axes
  var xAxis = d3.axisBottom(x).tickValues(xt).tickSize(11).tickPadding(9)
      .tickFormat(d3.format("d"));
  var yAxis = d3.axisLeft(y).tickValues(yTicks).tickSize(11).tickPadding(9)
      .tickFormat(d3.format(".2f"));
  var gx = g.append("g").attr("transform", "translate(0," + ph + ")").call(xAxis);
  var gy = g.append("g").call(yAxis);
  [gx, gy].forEach(function(a) {
    a.select(".domain").remove();
    a.selectAll("line").attr("stroke", "#333333").attr("stroke-width", 3.6);
    a.selectAll("text").attr("fill", "#4D4D4D").attr("font-size", 36.4)
        .attr("font-family", "Liberation Sans");
  });

  cell.append("text")
      .attr("x", margin.left).attr("y", 62)
      .attr("font-size", 55.4).attr("fill", "#000")
      .text(name + " ATAC-gene associated RNA-seq reads");
  cell.append("text")
      .attr("x", margin.left + pw / 2).attr("y", 1028)
      .attr("text-anchor", "middle").attr("font-size", 45.5).attr("fill", "#000")
      .text("mRNA in " + name + " (TPM)");
  cell.append("text")
      .attr("transform", "translate(56," + (margin.top + ph / 2) + ") rotate(-90)")
      .attr("text-anchor", "middle").attr("font-size", 46).attr("fill", "#000")
      .text(name + " mRNA / All mRNA");
});
</script>
</body>
</html>
